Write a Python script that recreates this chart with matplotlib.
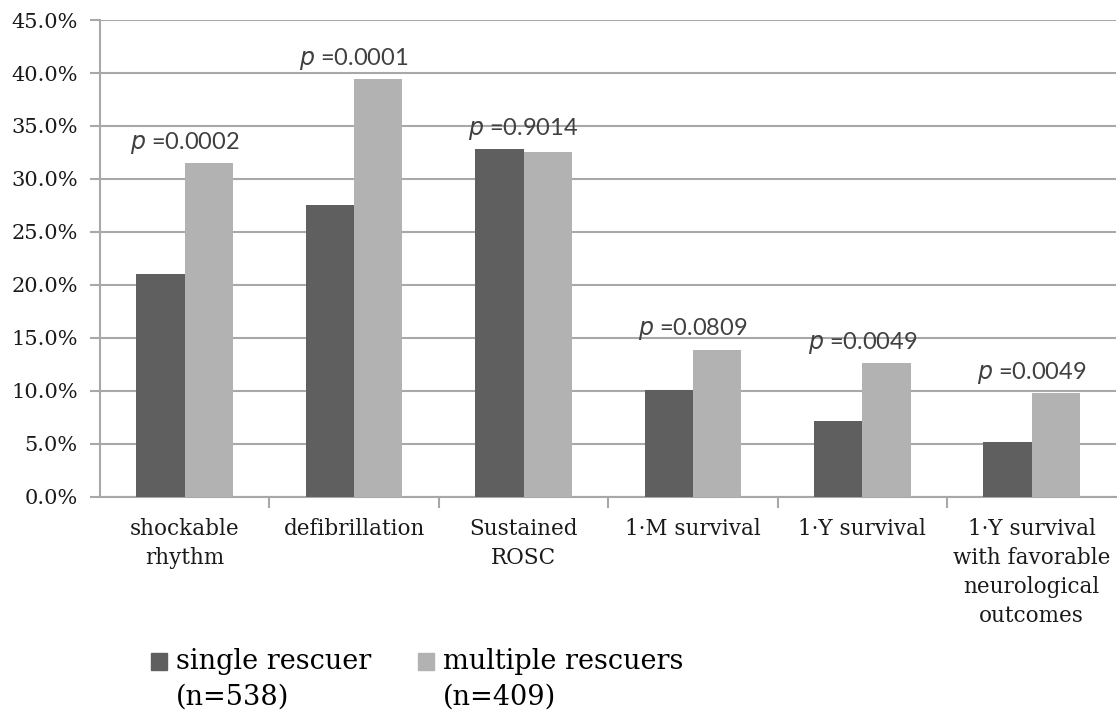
import numpy as np
import matplotlib.pyplot as plt
from matplotlib.patches import Patch, Rectangle
from matplotlib.legend_handler import HandlerPatch

categories = ["shockable\nrhythm", "defibrillation", "Sustained\nROSC",
              "1·M survival", "1·Y survival",
              "1·Y survival\nwith favorable\nneurological\noutcomes"]
single = [21.0, 27.5, 32.8, 10.1, 7.2, 5.2]
multiple = [31.5, 39.4, 32.5, 13.9, 12.6, 9.8]
pvalues = ["0.0002", "0.0001", "0.9014", "0.0809", "0.0049", "0.0049"]
series_labels = ["single rescuer\n(n=538)", "multiple rescuers\n(n=409)"]

dark = "#5f5f5f"
light = "#b2b2b2"
grid_c = "#a8a8a8"
serif = "DejaVu Serif"

fig = plt.figure(figsize=(11.17, 7.15), dpi=100)
ax = fig.add_axes([0.0895, 0.305, 0.91, 0.667])

x = np.arange(len(categories))
w = 1 / 3.5
ax.bar(x - w / 2, single, w, color=dark, zorder=3)
ax.bar(x + w / 2, multiple, w, color=light, zorder=3)

for i, p in enumerate(pvalues):
    top = max(single[i], multiple[i]) + 1.9
    ax.text(i, top, "$\\mathit{p}$ =" + p, ha="center", va="center",
            fontsize=17, color="#404040", family="Lato", zorder=4)

ax.set_xlim(-0.5, len(categories) - 0.5)
ax.set_ylim(0, 45)
ax.set_yticks(np.arange(0, 46, 5))
ax.set_yticklabels([f"{v:.1f}%" for v in np.arange(0, 46, 5)],
                   family=serif, fontsize=15, color="#1a1a1a")
ax.yaxis.grid(True, color=grid_c, linewidth=1.5, zorder=0)
ax.tick_params(axis="y", length=7, width=1.5, color=grid_c, pad=9)

ax.set_xticks(np.arange(0.5, len(categories) - 0.5, 1))
ax.set_xticks(x, minor=True)
ax.set_xticklabels([])
ax.set_xticklabels(categories, minor=True, family=serif, fontsize=15.5,
                   color="#1a1a1a", linespacing=1.42)
ax.tick_params(axis="x", which="major", length=8, width=1.5, color=grid_c)
ax.tick_params(axis="x", which="minor", length=0, pad=15)

for s in ["top", "right"]:
    ax.spines[s].set_visible(False)
for s in ["left", "bottom"]:
    ax.spines[s].set_color(grid_c)
    ax.spines[s].set_linewidth(1.5)


# legend square sits beside the first line of each two-line label
def top_square(legend, orig_handle, xdescent, ydescent, width, height, fontsize):
    return Rectangle((-xdescent, -ydescent + 0.68 * fontsize), width, height)


handles = [Patch(color=dark), Patch(color=light)]
fig.legend(handles, series_labels, loc="upper left", bbox_to_anchor=(0.113, 0.128),
           ncol=2, frameon=False, handlelength=0.6, handleheight=0.6,
           handletextpad=0.35, columnspacing=1.7,
           handler_map={Patch: HandlerPatch(patch_func=top_square)},
           prop={"family": serif, "size": 19.5})
for t in fig.legends[0].get_texts():
    t.set_linespacing(1.42)

fig.savefig("out.png", dpi=100)
